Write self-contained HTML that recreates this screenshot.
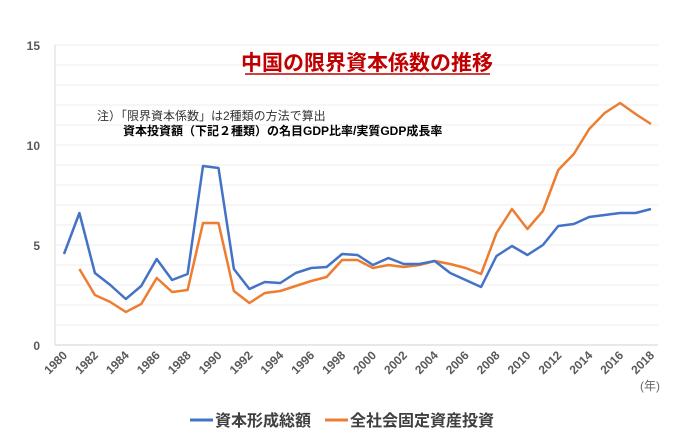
<!DOCTYPE html>
<html><head><meta charset="utf-8"><style>
body{margin:0;background:#fff;}
svg{display:block;font-family:"Liberation Sans","Noto Sans CJK JP",sans-serif;}
</style></head><body>
<svg width="700" height="446" viewBox="0 0 700 446" xmlns="http://www.w3.org/2000/svg">
<g id="grid"></g>
<g id="yt"></g>
<g id="xt"></g>
<line x1="55" y1="45" x2="55" y2="345" stroke="#d9d9d9" stroke-width="1"/>
<g id="series"></g>
<text x="367" y="70" text-anchor="middle" font-size="21" font-weight="bold" fill="#c00000">中国の限界資本係数の推移</text>
<line x1="245" y1="74" x2="490" y2="74" stroke="#c00000" stroke-width="1.5"/>
<text x="97" y="120" font-size="12" fill="#333">注）「限界資本係数」は2種類の方法で算出</text>
<text x="123" y="135" font-size="12" font-weight="bold" fill="#000">資本投資額（下記２種類）の名目GDP比率/実質GDP成長率</text>
<text x="650" y="390" text-anchor="middle" font-size="12" fill="#666">(年)</text>
<g>
<line x1="190" y1="420" x2="213" y2="420" stroke="#4472c4" stroke-width="3"/>
<text x="215" y="426" font-size="16" font-weight="bold" fill="#404040">資本形成総額</text>
<line x1="325" y1="420" x2="348" y2="420" stroke="#ed7d31" stroke-width="3"/>
<text x="350" y="426" font-size="16" font-weight="bold" fill="#404040">全社会固定資産投資</text>
</g>
</svg>
<script>
const years=[1980,1981,1982,1983,1984,1985,1986,1987,1988,1989,1990,1991,1992,1993,1994,1995,1996,1997,1998,1999,2000,2001,2002,2003,2004,2005,2006,2007,2008,2009,2010,2011,2012,2013,2014,2015,2016,2017,2018];
const grossCapital=[4.55,6.6,3.6,3.0,2.3,2.95,4.3,3.25,3.55,8.95,8.85,3.8,2.8,3.15,3.1,3.6,3.85,3.9,4.55,4.5,4.0,4.35,4.05,4.05,4.2,3.6,3.25,2.9,4.45,4.95,4.5,5.0,5.95,6.05,6.4,6.5,6.6,6.6,6.8];
const fixedAsset=[null,3.8,2.5,2.15,1.65,2.05,3.35,2.65,2.75,6.1,6.1,2.7,2.1,2.6,2.7,2.95,3.2,3.4,4.25,4.25,3.85,4.0,3.9,4.0,4.2,4.05,3.85,3.55,5.6,6.8,5.8,6.7,8.75,9.55,10.8,11.6,12.1,11.55,11.05];
const yTicks=[0,5,10,15];
const NS="http://www.w3.org/2000/svg";
const x=y=>64+(y-1980)*(651-64)/38;
const yv=v=>345-v*20;
function mk(t,a,p){const e=document.createElementNS(NS,t);for(const k in a)e.setAttribute(k,a[k]);p.appendChild(e);return e;}
const grid=document.getElementById('grid');
for(let v=0;v<=15;v++){
 const l=mk('line',{x1:55,x2:658,y1:yv(v),y2:yv(v),stroke:v===0?'#d0d0d0':'#ececec','stroke-width':1},grid);
 
 
}
const yt=document.getElementById('yt');
yTicks.forEach(v=>{const t=mk('text',{x:40,y:yv(v)+5,'text-anchor':'end','font-size':12,'font-weight':'bold',fill:'#595959'},yt);t.textContent=v;
 
 });
const xt=document.getElementById('xt');
years.forEach(yr=>{if(yr%2)return;const px=x(yr);
 const t=mk('text',{x:px+4,y:356,'text-anchor':'end','font-size':12,'font-weight':'bold',fill:'#595959',transform:`rotate(-45 ${px+4} 356)`},xt);t.textContent=yr;
 
 });
const s=document.getElementById('series');
function line(arr,col,name){let d='';arr.forEach((v,i)=>{if(v==null)return;d+=(d?'L':'M')+x(years[i]).toFixed(1)+','+yv(v).toFixed(1);});
 const p=mk('path',{d:d,fill:'none',stroke:col,'stroke-width':2.5,'stroke-linejoin':'round'},s);
 
 }
line(fixedAsset,'#ed7d31','series-fixed-asset-investment');
line(grossCapital,'#4472c4','series-gross-capital-formation');
</script>
</body></html>
